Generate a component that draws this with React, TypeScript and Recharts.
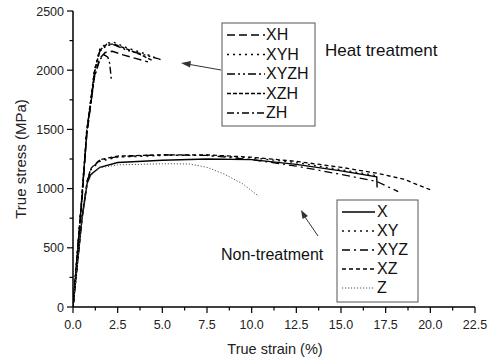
import React from 'react';
import { LineChart, Line, XAxis, YAxis } from 'recharts';

// ---------- data ----------
const xMajorTicks = [0, 2.5, 5, 7.5, 10, 12.5, 15, 17.5, 20, 22.5];
const xMinorTicks = [1.25, 3.75, 6.25, 8.75, 11.25, 13.75, 16.25, 18.75, 21.25];
const yMajorTicks = [0, 500, 1000, 1500, 2000, 2500];
const yMinorTicks = [250, 750, 1250, 1750, 2250];

// Heat treatment (strain %, stress MPa)
const XH: number[][] = [[0, 0], [0.5, 900], [0.77, 1450], [1.0, 1720], [1.2, 1950], [1.5, 2100], [1.8, 2150], [2.2, 2160], [2.8, 2130], [3.5, 2100], [4.2, 2070]];
const XYH: number[][] = [[0, 0], [0.5, 950], [0.77, 1500], [1.0, 1760], [1.2, 2000], [1.5, 2180], [1.9, 2230], [2.3, 2235], [3.0, 2190], [4.0, 2140], [4.9, 2090]];
const XYZH: number[][] = [[0, 0], [0.5, 930], [0.77, 1480], [1.0, 1740], [1.2, 1980], [1.5, 2160], [1.9, 2210], [2.3, 2215], [3.0, 2170], [4.0, 2130], [4.8, 2095]];
const XZH: number[][] = [[0, 0], [0.5, 940], [0.77, 1490], [1.0, 1750], [1.2, 1990], [1.5, 2170], [1.9, 2220], [2.3, 2220], [3.0, 2180], [3.8, 2130], [4.4, 2085]];
const ZH: number[][] = [[0, 0], [0.5, 920], [0.77, 1460], [1.0, 1720], [1.2, 1940], [1.5, 2090], [1.75, 2130], [1.95, 2110], [2.05, 2060], [2.1, 1990], [2.15, 1910]];

// Non-treatment
const X: number[][] = [[0, 0], [0.5, 740], [0.8, 1050], [1.0, 1120], [1.5, 1180], [2.5, 1220], [5, 1240], [7.5, 1250], [10, 1245], [12.5, 1205], [15, 1150], [17, 1100], [17.02, 1010]];
const XY: number[][] = [[0, 0], [0.5, 750], [0.8, 1060], [1.0, 1160], [1.5, 1230], [2.5, 1265], [5, 1280], [7.5, 1280], [10, 1260], [12.5, 1220], [15, 1160], [17, 1110]];
const XYZ: number[][] = [[0, 0], [0.5, 745], [0.8, 1065], [1.0, 1165], [1.5, 1240], [2.5, 1270], [5, 1285], [7.5, 1280], [10, 1245], [12.5, 1190], [15, 1120], [17, 1060], [18.2, 975]];
const XZ: number[][] = [[0, 0], [0.5, 750], [0.8, 1070], [1.0, 1170], [1.5, 1245], [2.5, 1275], [5, 1285], [7.5, 1285], [10, 1265], [12.5, 1230], [15, 1180], [17, 1130], [18.5, 1080], [20, 990]];
const Z: number[][] = [[0, 0], [0.5, 730], [0.8, 1030], [1.0, 1110], [1.5, 1175], [2.5, 1200], [5, 1210], [6.5, 1208], [7.5, 1180], [8.5, 1120], [9.5, 1040], [10.4, 935]];

const heatNames = ['XH', 'XYH', 'XYZH', 'XZH', 'ZH'];
const nonNames = ['X', 'XY', 'XYZ', 'XZ', 'Z'];

// ---------- layout / style ----------
const W = 492;
const H = 358;
const M = { top: 11, right: 17, left: 0, bottom: 0 };
const YAXIS_W = 73;
const XAXIS_H = 51;
const PLOT_LEFT = M.left + YAXIS_W;
const PLOT_BOTTOM = H - M.bottom - XAXIS_H;
const FONT = '"Liberation Sans", Arial, sans-serif';

const heatDash = ['8 4', '2 4', '8 3 2 3 2 3', '4 2', '7 3 2 3'];
const nonDash = ['0', '2 4', '8 4 2 4', '4 3', '1.2 1.8'];
const nonWidth = [1.4, 1.3, 1.3, 1.3, 1.0];
const nonColor = ['#000', '#111', '#000', '#000', '#555'];

const toPts = (a: number[][]) => a.map(([x, y]) => ({ x, y }));
const heatSeries = [XH, XYH, XYZH, XZH, ZH];
const nonSeries = [X, XY, XYZ, XZ, Z];

const XTick = (props: any) => {
  const { x, payload } = props;
  const v = payload.value as number;
  const major = xMajorTicks.includes(v);
  return (
    <g>
      <line x1={x} x2={x} y1={PLOT_BOTTOM} y2={PLOT_BOTTOM + (major ? 6 : 3.5)} stroke="#000" strokeWidth={1.2} />
      {major && (
        <text x={x} y={PLOT_BOTTOM + 22} textAnchor="middle" fontSize={12.5} fontFamily={FONT} fill="#222">
          {v.toFixed(1)}
        </text>
      )}
    </g>
  );
};

const YTick = (props: any) => {
  const { y, payload } = props;
  const v = payload.value as number;
  const major = yMajorTicks.includes(v);
  return (
    <g>
      <line x1={PLOT_LEFT - (major ? 6 : 3.5)} x2={PLOT_LEFT} y1={y} y2={y} stroke="#000" strokeWidth={1.2} />
      {major && (
        <text x={PLOT_LEFT - 9} y={y + 4.5} textAnchor="end" fontSize={12.5} fontFamily={FONT} fill="#222">
          {v}
        </text>
      )}
    </g>
  );
};

const Overlay = () => (
  <svg width={W} height={H} style={{ position: 'absolute', left: 0, top: 0, pointerEvents: 'none' }} fontFamily={FONT}>
    {/* axis titles */}
    <text x={275} y={354} textAnchor="middle" fontSize={14.5} fill="#222">True strain (%)</text>
    <text x={0} y={0} transform="translate(26,159) rotate(-90)" textAnchor="middle" fontSize={15} fill="#222">True stress (MPa)</text>

    {/* heat legend */}
    <rect x={222} y={23} width={93} height={103} fill="#fff" stroke="#555" strokeWidth={1} />
    {heatNames.map((n, i) => {
      const cy = 35 + i * 19.5;
      return (
        <g key={n}>
          <line x1={227} x2={265} y1={cy} y2={cy} stroke="#000" strokeWidth={1.3} strokeDasharray={heatDash[i]} />
          <text x={266} y={cy + 5.2} fontSize={16} fill="#111">{n}</text>
        </g>
      );
    })}
    <text x={325} y={56} fontSize={17} fill="#111">Heat treatment</text>
    <line x1={221} y1={70} x2={190} y2={64.5} stroke="#333" strokeWidth={1} />
    <polygon points="181,63 191,61 190,67.5" fill="#333" />

    {/* non-treatment legend */}
    <rect x={337} y={200} width={81} height={102} fill="#fff" stroke="#555" strokeWidth={1} />
    {nonNames.map((n, i) => {
      const cy = 212 + i * 19;
      return (
        <g key={n}>
          <line x1={342} x2={375} y1={cy} y2={cy} stroke={nonColor[i]} strokeWidth={nonWidth[i]} strokeDasharray={nonDash[i]} />
          <text x={377} y={cy + 5.2} fontSize={16} fill="#111">{n}</text>
        </g>
      );
    })}
    <text x={221} y={260} fontSize={16} fill="#111">Non-treatment</text>
    <line x1={318} y1={236} x2={305} y2={217} stroke="#333" strokeWidth={1} />
    <polygon points="301,210 308,216 302.5,219" fill="#333" />
  </svg>
);

export default function App() {
  return (
    <div style={{ position: 'absolute', left: 0, top: 0, width: W, height: H, background: '#fff', fontFamily: FONT }}>
      <LineChart width={W} height={H} margin={M}>
        <XAxis
          dataKey="x"
          type="number"
          domain={[0, 22.5]}
          allowDataOverflow
          ticks={[...xMajorTicks, ...xMinorTicks].sort((a, b) => a - b)}
          interval={0}
          height={XAXIS_H}
          tick={<XTick />}
          tickLine={false}
          axisLine={{ stroke: '#000', strokeWidth: 1.5 }}
        />
        <XAxis
          xAxisId="top"
          orientation="top"
          type="number"
          domain={[0, 22.5]}
          height={0}
          tick={false}
          tickLine={false}
          axisLine={{ stroke: '#000', strokeWidth: 1.5 }}
        />
        <YAxis
          type="number"
          domain={[0, 2500]}
          allowDataOverflow
          ticks={[...yMajorTicks, ...yMinorTicks].sort((a, b) => a - b)}
          interval={0}
          width={YAXIS_W}
          tick={<YTick />}
          tickLine={false}
          axisLine={{ stroke: '#000', strokeWidth: 1.5 }}
        />
        <YAxis
          yAxisId="right"
          orientation="right"
          type="number"
          domain={[0, 2500]}
          width={0}
          tick={false}
          tickLine={false}
          axisLine={{ stroke: '#000', strokeWidth: 1.5 }}
        />
        {heatSeries.map((s, i) => (
          <Line
            key={'h' + i}
            data={toPts(s)}
            dataKey="y"
            type="linear"
            dot={false}
            stroke="#000"
            strokeWidth={1.4}
            strokeDasharray={heatDash[i]}
            isAnimationActive={false}
          />
        ))}
        {nonSeries.map((s, i) => (
          <Line
            key={'n' + i}
            data={toPts(s)}
            dataKey="y"
            type="linear"
            dot={false}
            stroke={nonColor[i]}
            strokeWidth={nonWidth[i]}
            strokeDasharray={nonDash[i]}
            isAnimationActive={false}
          />
        ))}
      </LineChart>
      <Overlay />
    </div>
  );
}
